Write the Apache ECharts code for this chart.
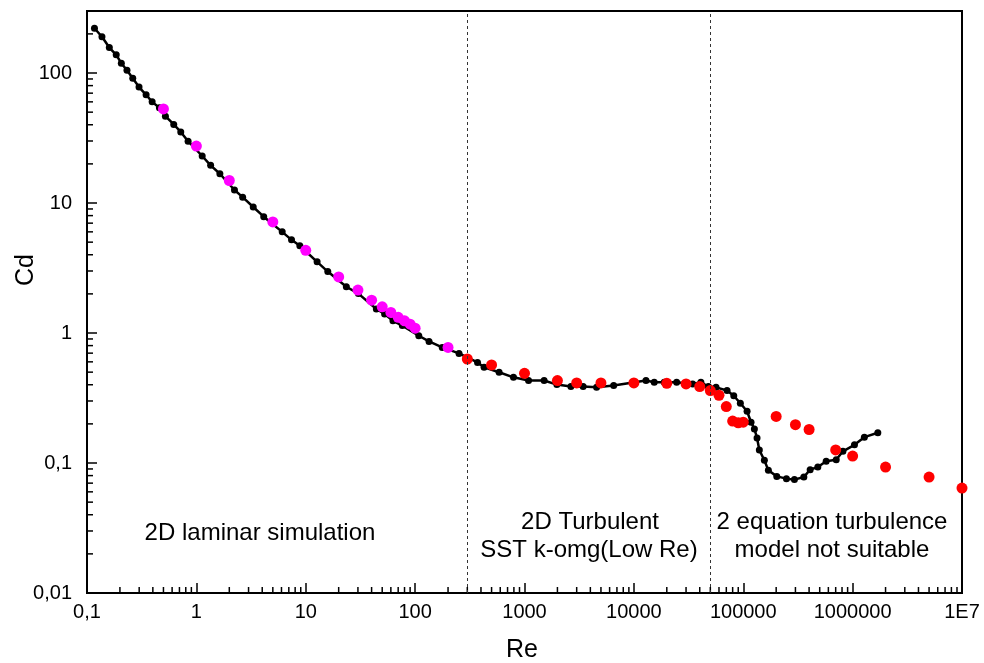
<!DOCTYPE html>
<html>
<head>
<meta charset="utf-8">
<script src="https://cdn.jsdelivr.net/npm/echarts@6/dist/echarts.min.js"></script>
<style>
  html, body { margin: 0; padding: 0; background: #fff; }
  #chart { width: 984px; height: 663px; }
</style>
</head>
<body>
<div id="chart"></div>
<script>
// simulation curve (black)
const simRe = [0.117, 0.137, 0.160, 0.185, 0.206, 0.232, 0.262, 0.299, 0.347, 0.394, 0.459, 0.521, 0.621, 0.72, 0.84,
  1.13, 1.35, 1.64, 2.23, 2.65, 3.31, 4.13, 6.09, 7.41, 8.83, 12.7, 15.9, 23.5, 30.3, 44.2, 52.6, 62.7, 76.4,
  108, 134, 177, 252, 372, 427, 586, 793, 1089, 1511, 1976, 2655, 3437, 4560, 6535, 12900, 15350, 18950, 24600,
  34500, 41000, 48000, 56400, 71100, 81900, 94100, 108400, 117800, 126400, 133700, 140300, 156000, 169700,
  202600, 248200, 293700, 358100, 409100, 480800, 572900, 708000, 815000, 1040000, 1280000, 1700000]
const simCd = [221, 190, 157, 138, 119, 105, 91, 78, 68, 60, 54, 46.6, 40.2, 35.2, 29.9,
  23.0, 19.5, 16.8, 12.6, 11.1, 9.32, 7.85, 6.0, 5.21, 4.69, 3.53, 2.97, 2.27, 2.01, 1.53, 1.40, 1.24, 1.14,
  0.953, 0.862, 0.775, 0.697, 0.594, 0.545, 0.499, 0.456, 0.431, 0.431, 0.401, 0.387, 0.387, 0.382, 0.394, 0.431, 0.418, 0.418, 0.418,
  0.406, 0.418, 0.387, 0.382, 0.361, 0.329, 0.288, 0.250, 0.206, 0.183, 0.156, 0.126, 0.105, 0.0878,
  0.0789, 0.0758, 0.0745, 0.0780, 0.0889, 0.0931, 0.103, 0.106, 0.123, 0.138, 0.158, 0.171]
// experimental points, low Re (magenta)
const lowRe = [0.5, 1, 2, 5, 10, 20, 30, 40, 50, 60, 70, 80, 90, 100, 200]
const lowCd = [52.9, 27.4, 14.9, 7.15, 4.33, 2.70, 2.14, 1.79, 1.59, 1.44, 1.32, 1.24, 1.17, 1.09, 0.775]
// experimental points, high Re (red)
const highRe = [300, 500, 1000, 2000, 3000, 5000, 10000, 20000, 30000, 40000, 50000, 60000, 70000, 80000, 90000,
  100000, 200000, 300000, 400000, 700000, 1000000, 2000000, 5000000, 10000000]
const highCd = [0.631, 0.568, 0.490, 0.431, 0.413, 0.413, 0.413, 0.410, 0.406, 0.387, 0.361, 0.332, 0.272, 0.210, 0.204,
  0.206, 0.228, 0.197, 0.181, 0.126, 0.113, 0.0931, 0.078, 0.0641]

const xTickLabels = ['0,1', '1', '10', '100', '1000', '10000', '100000', '1000000', '1E7']
const yTickLabels = ['0,01', '0,1', '1', '10', '100']
const regionBounds = [300, 50000]

// minor ticks at 2..9 of every decade
const minorSteps = [2, 3, 4, 5, 6, 7, 8, 9]
const xMinor = []
for (let d = -1; d < 7; d++) minorSteps.forEach(m => xMinor.push(m * Math.pow(10, d)))
const yMinor = []
for (let d = -2; d < 3; d++) minorSteps.forEach(m => { const v = m * Math.pow(10, d); if (v < 300) yMinor.push(v) })

const zip = (a, b) => a.map((v, i) => [v, b[i]])
const font = 'Liberation Sans, Arial, sans-serif'
const textStyle = (text, size) => ({ text, font: size + 'px ' + font, fill: '#000', align: 'center', verticalAlign: 'middle' })

const myChart = echarts.init(document.getElementById('chart'))
const option = {
  animation: false,
  grid: { left: 87, right: 22, top: 11, bottom: 70, show: true, borderColor: '#000', borderWidth: 2 },
  xAxis: {
    type: 'log',
    logBase: 10,
    min: 0.1,
    max: 1e7,
    axisLine: { lineStyle: { color: '#000', width: 2 } },
    axisTick: { inside: true, length: 10, lineStyle: { color: '#000', width: 1.5 } },
    splitLine: { show: false },
    axisLabel: {
      color: '#000', fontSize: 20, fontFamily: font, margin: 9,
      formatter: v => xTickLabels[Math.round(Math.log10(v)) + 1] || ''
    }
  },
  yAxis: {
    type: 'log',
    logBase: 10,
    min: 0.01,
    max: 300,
    axisLine: { lineStyle: { color: '#000', width: 2 } },
    axisTick: { inside: true, length: 10, lineStyle: { color: '#000', width: 1.5 } },
    splitLine: { show: false },
    axisLabel: {
      color: '#000', fontSize: 20, fontFamily: font, margin: 15, showMaxLabel: false,
      formatter: v => {
        const l = Math.log10(v)
        if (Math.abs(l - Math.round(l)) > 1e-6) return ''
        return yTickLabels[Math.round(l) + 2] || ''
      }
    }
  },
  graphic: [
    { type: 'text', x: 260, y: 533, style: textStyle('2D laminar simulation', 24) },
    { type: 'text', x: 590, y: 522, style: textStyle('2D Turbulent', 24) },
    { type: 'text', x: 589, y: 550, style: textStyle('SST k-omg(Low Re)', 24) },
    { type: 'text', x: 832, y: 522, style: textStyle('2 equation turbulence', 24) },
    { type: 'text', x: 832, y: 550, style: textStyle('model not suitable', 24) },
    { type: 'text', x: 522, y: 650, style: textStyle('Re', 25) },
    { type: 'text', x: 26, y: 270, rotation: Math.PI / 2, style: textStyle('Cd', 25) }
  ],
  series: [
    {
      type: 'custom',
      silent: true,
      clip: false,
      data: xMinor.map(v => [v, 0.01]),
      renderItem: (params, api) => {
        const p = api.coord([api.value(0), api.value(1)])
        return { type: 'line', shape: { x1: p[0], y1: p[1], x2: p[0], y2: p[1] - 6 }, style: { stroke: '#000', lineWidth: 1.5 } }
      }
    },
    {
      type: 'custom',
      silent: true,
      clip: false,
      data: yMinor.map(v => [0.1, v]),
      renderItem: (params, api) => {
        const p = api.coord([api.value(0), api.value(1)])
        return { type: 'line', shape: { x1: p[0], y1: p[1], x2: p[0] + 6, y2: p[1] }, style: { stroke: '#000', lineWidth: 1.5 } }
      }
    },
    {
      name: 'simulation',
      type: 'line',
      data: zip(simRe, simCd),
      symbol: 'circle',
      symbolSize: 7,
      itemStyle: { color: '#000' },
      lineStyle: { color: '#000', width: 2.5 },
      markLine: {
        silent: true,
        symbol: 'none',
        label: { show: false },
        lineStyle: { color: '#333', type: [3, 3], width: 1 },
        data: regionBounds.map(v => ({ xAxis: v }))
      },
      z: 2
    },
    {
      name: 'low Re',
      type: 'scatter',
      data: zip(lowRe, lowCd),
      symbolSize: 11,
      itemStyle: { color: '#ff00ff', opacity: 1 },
      z: 3
    },
    {
      name: 'high Re',
      type: 'scatter',
      data: zip(highRe, highCd),
      symbolSize: 11,
      itemStyle: { color: '#ff0000', opacity: 1 },
      z: 4
    }
  ]
}
myChart.setOption(option)
</script>
</body>
</html>
